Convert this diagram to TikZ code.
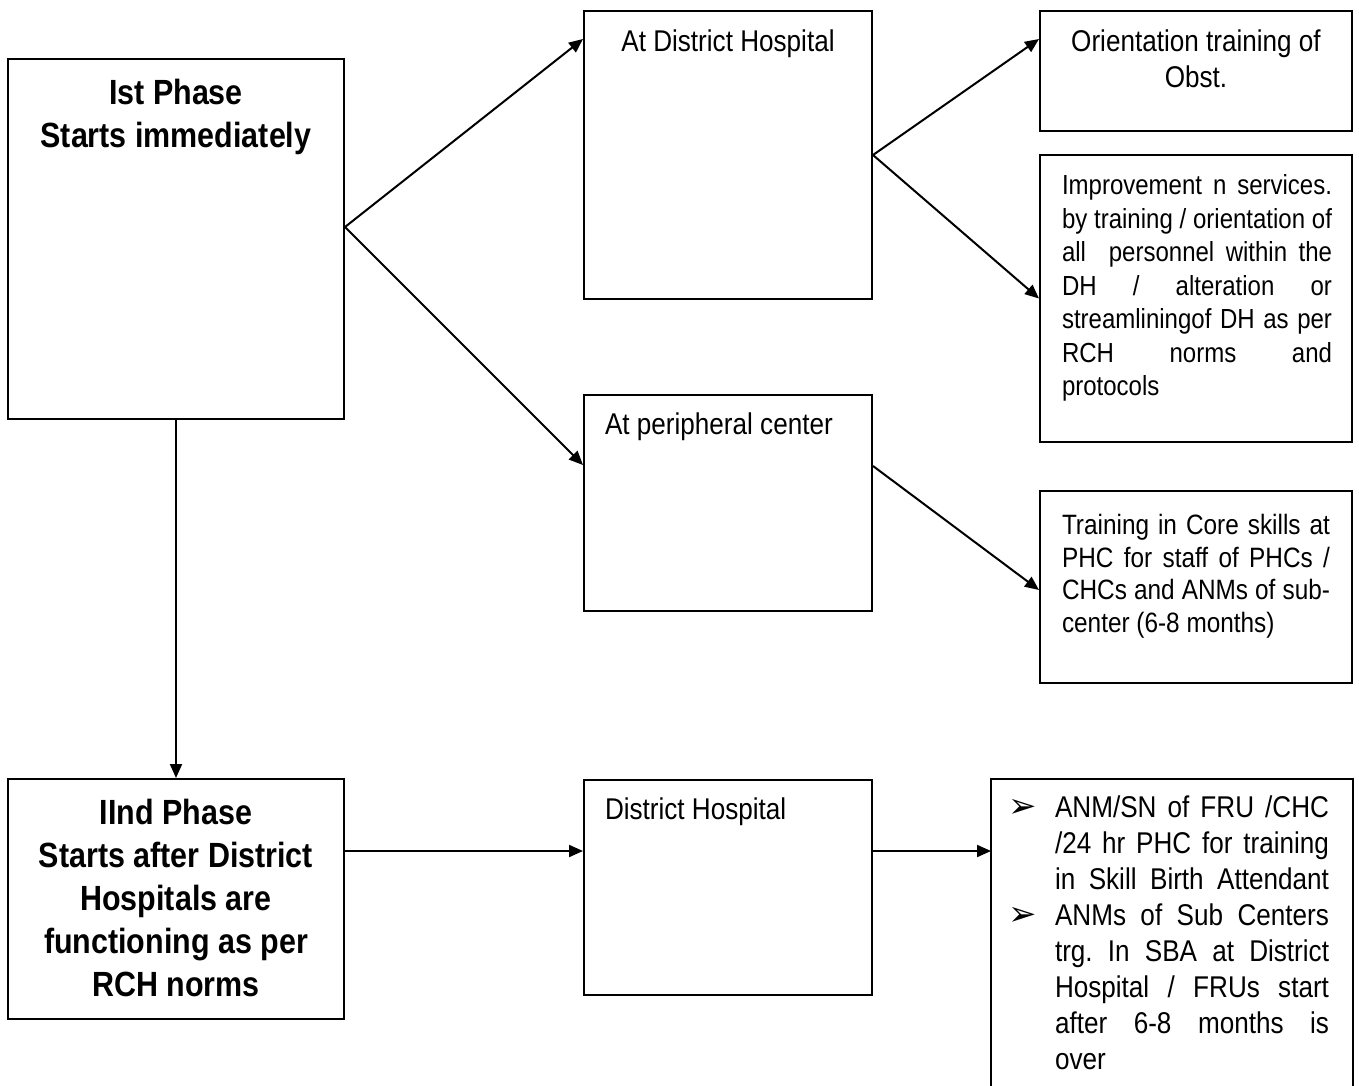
\documentclass[tikz,border=0pt]{standalone}
\usepackage{fontspec}
\setmainfont[FakeStretch=0.87]{Liberation Sans}
\newfontfamily\arrowfont{DejaVu Sans}
\usetikzlibrary{arrows.meta,positioning}
\frenchspacing

\newcommand{\arrowbullet}{\llap{{\arrowfont\fontsize{17}{17}\selectfont ➢}\hspace{9pt}}}

\tikzset{framebox/.style={
			  rectangle,
			  draw            = black,
			  inner sep       = 0pt
			}}
\tikzset{phasetext/.style={
			  inner sep       = 0pt,
			  align           = center,
			  font            = \bfseries\fontsize{17.5}{21.5}\selectfont
			}}
\tikzset{boxtext/.style={
			  inner sep       = 0pt,
			  align           = center,
			  font            = \fontsize{15}{18}\selectfont
			}}
\tikzset{parbox/.style={
			  inner sep       = 0pt,
			  align           = justify,
			  font            = \fontsize{13.8}{16.75}\selectfont
			}}

\begin{document}
\begin{tikzpicture}[x=0.5pt, y=-0.5pt, line width=1pt, >={Triangle[length=7pt, width=6pt]}]
    \useasboundingbox (0,0) rectangle (1359,1086);

    \node (ph1)     [framebox, minimum width=168pt, minimum height=180pt]   at (176,239)   {};
    \node (atdh)    [framebox, minimum width=144pt, minimum height=144pt]   at (728,155)   {};
    \node (orient)  [framebox, minimum width=156pt, minimum height=60pt]    at (1196,71)   {};
    \node (improve) [framebox, minimum width=156pt, minimum height=143.5pt] at (1196,298.5) {};
    \node (periph)  [framebox, minimum width=144pt, minimum height=108pt]   at (728,503)   {};
    \node (train)   [framebox, minimum width=156pt, minimum height=96pt]    at (1196,587)  {};
    \node (ph2)     [framebox, minimum width=168pt, minimum height=120pt]   at (176,899)   {};
    \node (dh)      [framebox, minimum width=144pt, minimum height=107.5pt] at (728,887.5) {};
    \node (sba)     [framebox, draw=none, minimum width=180pt, minimum height=153pt] at (1172,933) {};
    \draw (sba.south west) -- (sba.north west) -- (sba.north east) -- (sba.south east);

    \node (ph1text)     [phasetext, below=10.25pt of ph1.north]    {Ist Phase\\Starts immediately};
    \node (atdhtext)    [boxtext, below=9.5pt of atdh.north]       {At District Hospital};
    \node (orienttext)  [boxtext, below=9.5pt of orient.north]     {Orientation training of\\Obst.};
    \node (improvetext) [parbox, text width=135pt, below right=9.8pt and 11pt of improve.north west]
        {Improvement n services.\linebreak by training / orientation of\linebreak all\ \ personnel within the\linebreak
         DH / alteration or\linebreak streamliningof DH as per\linebreak RCH norms and\linebreak protocols};
    \node (periphtext)  [boxtext, below right=9pt and 10.5pt of periph.north west] {At peripheral center};
    \node (traintext)   [parbox, text width=134pt, font=\fontsize{14}{16.25}\selectfont,
                         below right=11.8pt and 11pt of train.north west]
        {Training in Core skills at\linebreak PHC for staff of PHCs /\linebreak CHCs and ANMs of sub-\linebreak center (6-8 months)};
    \node (ph2text)     [phasetext, below=10.25pt of ph2.north]
        {IInd Phase\\Starts after District\\Hospitals are\\functioning as per\\RCH norms};
    \node (dhtext)      [boxtext, below right=9pt and 10.5pt of dh.north west] {District Hospital};
    \node (sbatext)     [parbox, text width=137pt, font=\fontsize{15}{18}\selectfont,
                         below right=8pt and 31.5pt of sba.north west]
        {\arrowbullet ANM/SN of FRU /CHC\linebreak /24 hr PHC for training\linebreak in Skill Birth Attendant\linebreak
         \arrowbullet ANMs of Sub Centers\linebreak trg. In SBA at District\linebreak Hospital / FRUs start\linebreak
         after 6-8 months is\linebreak over};

    \coordinate (ph1fork)   at ([yshift=6pt]ph1.east);
    \coordinate (periphout) at ([yshift=-36pt]periph.north east);
    \coordinate (ph2out)    at ([yshift=-36.5pt]ph2.north east);
    \coordinate (dhout)     at ([yshift=-36pt]dh.north east);

    \draw [->] (ph1fork)   to ([yshift=-14.5pt]atdh.north west);
    \draw [->] (ph1fork)   to ([yshift=-35.5pt]periph.north west);
    \draw [->] (atdh.east) to ([yshift=-14.5pt]orient.north west);
    \draw [->] (atdh.east) to (improve.west);
    \draw [->] (periphout) to ([yshift=-1.5pt]train.west);
    \draw [->] (ph1.south) to (ph2.north);
    \draw [->] (ph2out)    to (ph2out -| dh.west);
    \draw [->] (dhout)     to (dhout -| sba.west);

\end{tikzpicture}
\end{document}
